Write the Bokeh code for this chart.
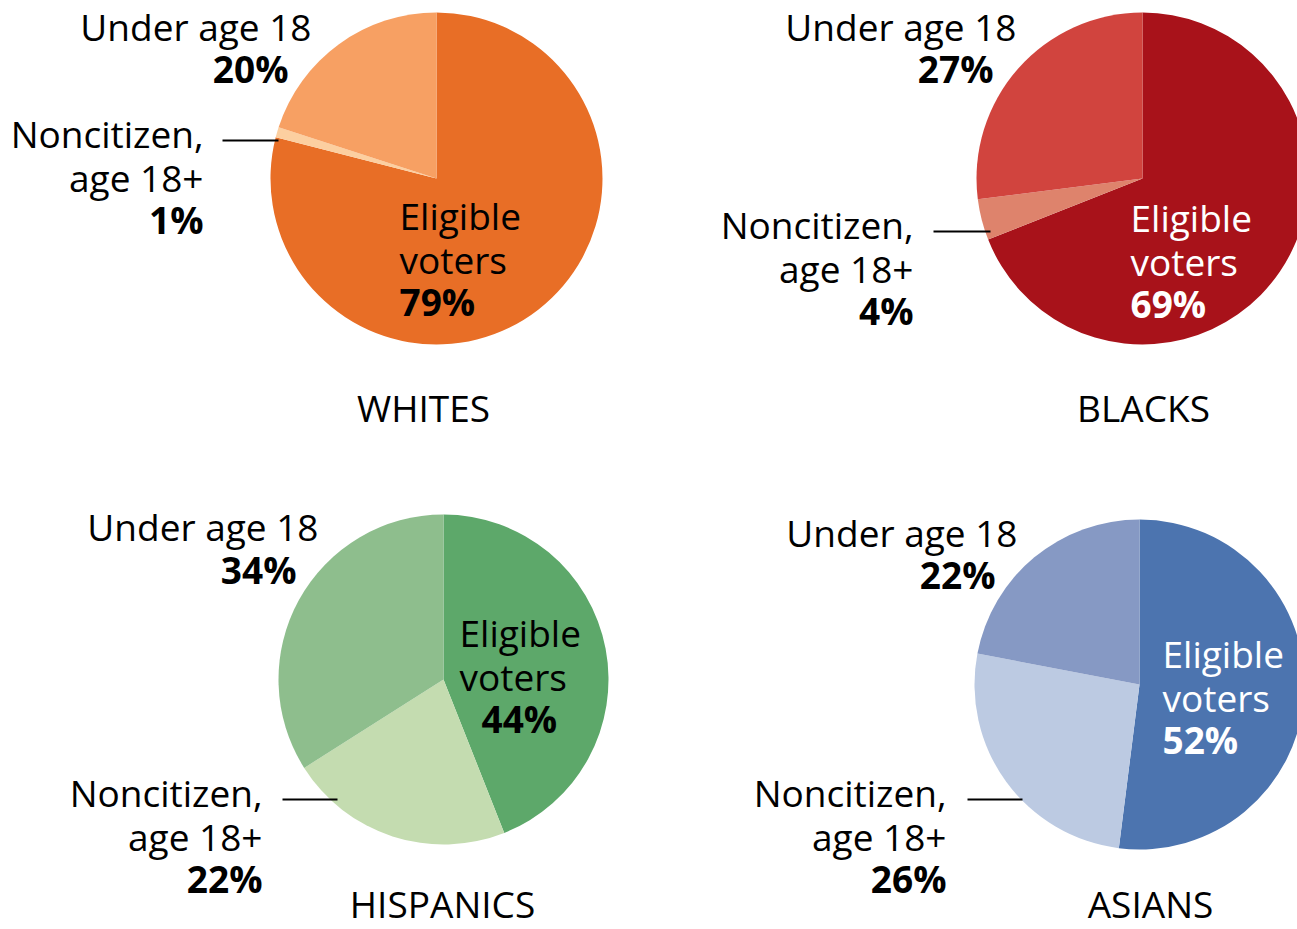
from bokeh.plotting import figure
from bokeh.models import Range1d
from bokeh.core.properties import value
from bokeh.embed import file_html
from bokeh.resources import INLINE
import math

# ---- data ----
groups = ["WHITES", "BLACKS", "HISPANICS", "ASIANS"]
eligible = [79, 69, 44, 52]
noncitizen = [1, 4, 22, 26]
under18 = [20, 27, 34, 22]

col_eligible = ["#E86E26", "#A8121A", "#5DA86A", "#4C74AF"]
col_noncit = ["#FCCFA0", "#DE836C", "#C4DCB0", "#BCCAE2"]
col_under = ["#F7A063", "#D1443E", "#8EBE8D", "#8699C4"]
eligible_text_col = ["black", "white", "black", "white"]

# ---- layout (picture pixel coords; y converted) ----
W, H = 1297, 929
def Y(py):
    return H - py

centers = [(436, 178), (1142, 178), (443, 679), (1139, 684)]
radii = [166, 166, 165, 165]

under_pos = [((311, 26), (288, 68)), ((1016, 26), (993, 68)),
             ((318, 526), (296, 569)), ((1017, 532), (995, 574))]
noncit_pos = [(203, 133), (913, 224), (262, 792), (946, 792)]
leader = [((222, 140), (278, 140)), ((933, 231), (990, 231)),
          ((282, 799), (337, 799)), ((967, 799), (1022, 799))]
elig_pos = [((399, 215), (399, 301)), ((1130, 217), (1130, 303)),
            ((459, 632), (481, 718)), ((1162, 653), (1162, 739))]
title_pos = [(423, 407), (1143, 407), (442, 903), (1150, 903)]

FONT = value("Open Sans")
FS = "37px"
LH = 44

p = figure(width=W, height=H, output_backend="svg", toolbar_location=None,
           x_range=Range1d(0, W), y_range=Range1d(0, H),
           x_axis_location=None, y_axis_location=None, min_border=0,
           match_aspect=False)
p.grid.visible = False
p.outline_line_color = None
p.background_fill_color = "white"
p.border_fill_color = "white"

for i in range(4):
    cx, cy = centers[i]
    r = radii[i]
    e, n, u = eligible[i], noncitizen[i], under18[i]
    a0 = 90.0
    a1 = a0 - 3.6 * e
    a2 = a1 - 3.6 * n
    a3 = a2 - 3.6 * u
    slices = [(a1, a0, col_eligible[i]), (a2, a1, col_noncit[i]), (a3, a2, col_under[i])]
    for s, t, c in slices:
        p.wedge(x=cx, y=Y(cy), radius=r, start_angle=math.radians(s),
                end_angle=math.radians(t), direction="anticlock",
                fill_color=c, line_color=None)

    # Under age 18
    (ux, uy), (upx, upy) = under_pos[i]
    p.text(x=[ux], y=[Y(uy)], text=["Under age 18"], text_font=FONT, text_font_size=FS,
           text_align="right", text_baseline="middle", text_color="black")
    p.text(x=[upx], y=[Y(upy)], text=[f"{u}%"], text_font=FONT, text_font_size=FS,
           text_font_style="bold", text_align="right", text_baseline="middle", text_color="black")

    # Noncitizen
    nx, ny = noncit_pos[i]
    p.text(x=[nx, nx], y=[Y(ny), Y(ny + LH)], text=["Noncitizen,", "age 18+"], text_font=FONT,
           text_font_size=FS, text_align="right", text_baseline="middle", text_color="black")
    p.text(x=[nx], y=[Y(ny + LH + 42)], text=[f"{n}%"], text_font=FONT, text_font_size=FS,
           text_font_style="bold", text_align="right", text_baseline="middle", text_color="black")
    (lx0, ly0), (lx1, ly1) = leader[i]
    p.segment(x0=lx0, y0=Y(ly0), x1=lx1, y1=Y(ly1), line_color="black", line_width=2)

    # Eligible voters
    (ex, ey), (epx, epy) = elig_pos[i]
    tc = eligible_text_col[i]
    p.text(x=[ex, ex], y=[Y(ey), Y(ey + LH)], text=["Eligible", "voters"], text_font=FONT,
           text_font_size=FS, text_align="left", text_baseline="middle", text_color=tc)
    p.text(x=[epx], y=[Y(epy)], text=[f"{e}%"], text_font=FONT, text_font_size=FS,
           text_font_style="bold", text_align="left", text_baseline="middle", text_color=tc)

    # title
    tx, ty = title_pos[i]
    p.text(x=[tx], y=[Y(ty)], text=[groups[i]], text_font=FONT, text_font_size=FS,
           text_align="center", text_baseline="middle", text_color="black")

open("out.html", "w").write(file_html(p, INLINE))
